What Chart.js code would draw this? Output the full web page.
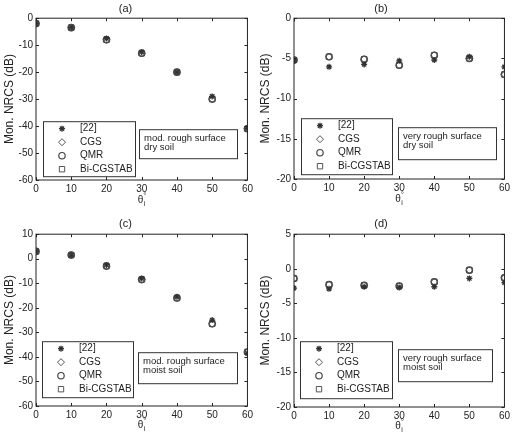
<!DOCTYPE html>
<html>
<head>
<meta charset="utf-8">
<script src="https://cdn.jsdelivr.net/npm/chart.js@4.4.0/dist/chart.umd.min.js"></script>
<style>
body { margin:0; background:#fff; }
#wrap { position:relative; width:513px; height:438px; }
canvas { position:absolute; }
</style>
</head>
<body>
<div id="wrap">
  <canvas id="pa" width="256" height="215" style="left:0;top:0"></canvas>
  <canvas id="pb" width="257" height="215" style="left:256px;top:0"></canvas>
  <canvas id="pc" width="256" height="223" style="left:0;top:215px"></canvas>
  <canvas id="pd" width="257" height="223" style="left:256px;top:215px"></canvas>
</div>
<script>
// incidence angles (deg)
var angles = [0, 10, 20, 30, 40, 50, 60];
var seriesNames = ['[22]', 'CGS', 'QMR', 'Bi-CGSTAB'];

// (a) mod. rough, dry soil
var refA  = [-2, -3.5, -7.5, -12.5, -20, -29, -41];
var cgsA  = [-2, -3.5, -8, -13, -20, -30, -41];
var qmrA  = [-2, -3.5, -8, -13, -20, -30, -41];
var bicgA = [-2, -3.5, -8, -13, -20, -30, -41];

// (b) very rough, dry soil
var refB  = [-5.3, -6.05, -5.75, -5.3, -5.2, -4.8, -6.05];
var cgsB  = [-5.2, -4.8, -5.1, -5.85, -4.6, -5.0, -7.0];
var qmrB  = [-5.2, -4.8, -5.1, -5.85, -4.6, -5.0, -7.0];
var bicgB = [-5.2, -4.8, -5.1, -5.85, -4.6, -5.0, -7.0];

// (c) mod. rough, moist soil
var refC  = [3, 1.5, -2.5, -8, -15.5, -25, -38.5];
var cgsC  = [3, 1.5, -3, -8.5, -16, -26.5, -38];
var qmrC  = [3, 1.5, -3, -8.5, -16, -26.5, -38];
var bicgC = [3, 1.5, -3, -8.5, -16, -26.5, -38];

// (d) very rough, moist soil
var refD  = [-2.8, -2.9, -2.6, -2.7, -2.6, -1.4, -2.0];
var cgsD  = [-1.4, -2.3, -2.4, -2.5, -1.9, -0.2, -1.3];
var qmrD  = [-1.4, -2.3, -2.4, -2.5, -1.9, -0.2, -1.3];
var bicgD = [-1.4, -2.3, -2.4, -2.5, -1.9, -0.2, -1.3];

var FONT = "'Liberation Sans', Arial, sans-serif";
var markers = [
  {style: 'star', r: 3, color: '#333', w: 1.3},
  {style: 'rectRot', r: 3.5, color: '#555', w: 1},
  {style: 'circle', r: 3.2, color: '#444', w: 1.2},
  {style: 'rect', r: 3.8, color: '#555', w: 1}
];

function drawMarker(ctx, m, x, y) {
  ctx.save();
  ctx.strokeStyle = m.color;
  ctx.lineWidth = m.w;
  ctx.beginPath();
  var r = m.r;
  if (m.style == 'star') {
    for (var k = 0; k < 4; k++) {
      var a = k * Math.PI / 4;
      ctx.moveTo(x - Math.cos(a) * r, y - Math.sin(a) * r);
      ctx.lineTo(x + Math.cos(a) * r, y + Math.sin(a) * r);
    }
  } else if (m.style == 'rectRot') {
    ctx.moveTo(x, y - r); ctx.lineTo(x + r, y); ctx.lineTo(x, y + r); ctx.lineTo(x - r, y); ctx.closePath();
  } else if (m.style == 'circle') {
    ctx.arc(x, y, r, 0, Math.PI * 2);
  } else {
    var s = r * Math.SQRT1_2;
    ctx.rect(x - s, y - s, 2 * s, 2 * s);
  }
  ctx.stroke();
  ctx.restore();
}

var framePlugin = {
  id: 'frame',
  afterDraw: function(chart) {
    var ctx = chart.ctx, a = chart.chartArea, o = chart.options.plugins.frame;
    var xs = chart.scales.x, ys = chart.scales.y;
    ctx.save();
    ctx.strokeStyle = '#222';
    ctx.lineWidth = 1;
    ctx.strokeRect(a.left, a.top, a.right - a.left, a.bottom - a.top);
    ctx.beginPath();
    xs.ticks.forEach(function(t) {
      var px = Math.round(xs.getPixelForValue(t.value)) + 0.5;
      ctx.moveTo(px, a.bottom); ctx.lineTo(px, a.bottom - 3);
      ctx.moveTo(px, a.top); ctx.lineTo(px, a.top + 3);
    });
    ys.ticks.forEach(function(t) {
      var py = Math.round(ys.getPixelForValue(t.value)) + 0.5;
      ctx.moveTo(a.left, py); ctx.lineTo(a.left + 3, py);
      ctx.moveTo(a.right, py); ctx.lineTo(a.right - 3, py);
    });
    ctx.stroke();

    // x axis title: theta, subscript i, superscript degree
    var cx = (a.left + a.right) / 2 - 4, cy = a.bottom + o.thetaDy;
    ctx.fillStyle = '#222';
    ctx.textBaseline = 'middle';
    ctx.font = '10px ' + FONT;
    ctx.fillText('\u03b8', cx, cy);
    ctx.font = '7px ' + FONT;
    ctx.fillText('i', cx + 6, cy + 4);
    ctx.font = '8px ' + FONT;
    ctx.fillText('\u00b0', cx + 5.5, cy - 4);

    // legend box
    var L = o.legend;
    var lx = a.left + L.x, ly = a.top + L.y;
    ctx.strokeStyle = '#333';
    ctx.lineWidth = 1;
    ctx.fillStyle = '#fff';
    ctx.fillRect(lx, ly, L.w, L.h);
    ctx.strokeRect(lx + 0.5, ly + 0.5, L.w, L.h);
    ctx.font = '10px ' + FONT;
    ctx.fillStyle = '#222';
    chart.data.datasets.forEach(function(ds, i) {
      var ry = ly + 7.5 + i * 13.5;
      drawMarker(ctx, markers[i], lx + 19, ry);
      ctx.fillText(ds.label, lx + 37, ry);
    });

    // note box
    var B = o.note;
    var bx = a.left + B.x, by = a.top + B.y;
    ctx.fillStyle = '#fff';
    ctx.fillRect(bx, by, B.w, B.h);
    ctx.strokeRect(bx + 0.5, by + 0.5, B.w, B.h);
    ctx.fillStyle = '#222';
    ctx.font = '9.5px ' + FONT;
    B.lines.forEach(function(s, i) {
      ctx.fillText(s, bx + 5, by + 9 + i * 9.5);
    });
    ctx.restore();
  }
};

function makePanel(id, label, series, ymin, ymax, step, lines, lay) {
  var datasets = series.map(function(vals, i) {
    var m = markers[i];
    return {
      label: seriesNames[i],
      data: angles.map(function(a, j) { return {x: a, y: vals[j]}; }),
      pointStyle: m.style,
      pointRadius: m.r,
      pointBorderColor: m.color,
      pointBackgroundColor: 'rgba(0,0,0,0)',
      pointBorderWidth: m.w,
      showLine: false
    };
  });
  new Chart(document.getElementById(id), {
    type: 'scatter',
    data: {datasets: datasets},
    options: {
      responsive: false,
      animation: false,
      events: [],
      layout: {padding: {left: 0, right: lay.padR, top: 0, bottom: 0}},
      plugins: {
        legend: {display: false},
        tooltip: {enabled: false},
        title: {
          display: true, text: label, color: '#222',
          font: {family: FONT, size: 11, weight: 'normal'},
          padding: {top: 2, bottom: lay.titleB}
        },
        frame: {legend: lay.legend, note: {x: lay.note.x, y: lay.note.y, w: lay.note.w, h: lay.note.h, lines: lines}, thetaDy: lay.thetaDy}
      },
      scales: {
        x: {
          type: 'linear', min: 0, max: 60,
          grid: {display: false, drawTicks: false},
          border: {display: false},
          ticks: {stepSize: 10, padding: 3, color: '#222', font: {family: FONT, size: 10}, maxRotation: 0},
          afterFit: function(s) { s.height = lay.xH; }
        },
        y: {
          min: ymin, max: ymax,
          grid: {display: false, drawTicks: false},
          border: {display: false},
          ticks: {stepSize: step, padding: 3, color: '#222', font: {family: FONT, size: 10}},
          title: {display: true, text: 'Mon. NRCS (dB)', color: '#222', font: {family: FONT, size: 12}, padding: {top: 2, bottom: 0}},
          afterFit: function(s) { s.width = lay.yW; }
        }
      }
    },
    plugins: [framePlugin]
  });
}

makePanel('pa', '(a)', [refA, cgsA, qmrA, bicgA], -60, 0, 10, ['mod. rough surface', 'dry soil'],
  {yW: 36, xH: 35, padR: 5, titleB: 3, thetaDy: 20,
   legend: {x: 7, y: 103, w: 92, h: 55}, note: {x: 103, y: 111, w: 98, h: 29}});
makePanel('pb', '(b)', [refB, cgsB, qmrB, bicgB], -20, 0, 5, ['very rough surface', 'dry soil'],
  {yW: 38, xH: 36, padR: 7, titleB: 3, thetaDy: 20,
   legend: {x: 7, y: 100, w: 91, h: 56}, note: {x: 104, y: 109, w: 98, h: 32}});
makePanel('pc', '(c)', [refC, cgsC, qmrC, bicgC], -60, 10, 10, ['mod. rough surface', 'moist soil'],
  {yW: 36, xH: 32, padR: 5, titleB: 4, thetaDy: 19,
   legend: {x: 6, y: 107, w: 91, h: 56}, note: {x: 102, y: 118, w: 99, h: 31}});
makePanel('pd', '(d)', [refD, cgsD, qmrD, bicgD], -20, 5, 5, ['very rough surface', 'moist soil'],
  {yW: 38, xH: 31, padR: 7, titleB: 4, thetaDy: 19,
   legend: {x: 6, y: 107, w: 92, h: 57}, note: {x: 104, y: 115, w: 94, h: 32}});
</script>
</body>
</html>
